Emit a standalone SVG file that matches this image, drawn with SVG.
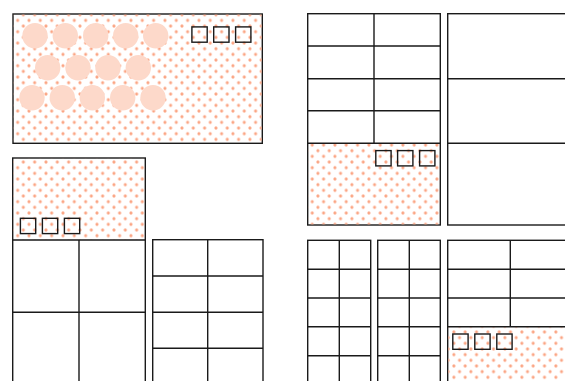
<svg xmlns="http://www.w3.org/2000/svg" width="565" height="381" viewBox="0 0 565 381">
<style>
.frame{fill:#fff;stroke:#1a1a1a;stroke-width:1.4}
.pat{fill:url(#dots);stroke:none}
.ln{stroke:#1a1a1a;stroke-width:1.4;fill:none}
.sq{fill:none;stroke:#1a1a1a;stroke-width:1.4}
.circ{fill:#fdd9ca}
</style>
<defs>
<pattern id="dots" patternUnits="userSpaceOnUse" x="-2.16" y="0.57" width="11.33" height="11.33">
<circle cx="2.83" cy="2.83" r="1.55" fill="#fba584"/>
<circle cx="8.5" cy="8.5" r="1.55" fill="#fba584"/>
</pattern>
</defs>
<rect width="565" height="381" fill="#fff"/>

<g id="panel1">
<rect class="frame" x="13" y="14" width="249.3" height="129.3"/>
<rect class="pat" x="13.6" y="14.6" width="248" height="128"/>
<g class="circ">
<circle cx="35" cy="35.7" r="12.7"/><circle cx="65.3" cy="35.7" r="12.7"/><circle cx="95.7" cy="35.7" r="12.7"/><circle cx="125.7" cy="35.7" r="12.7"/><circle cx="155.7" cy="35.7" r="12.7"/>
<circle cx="47.7" cy="67.7" r="12.7"/><circle cx="78" cy="67.7" r="12.7"/><circle cx="108" cy="67.7" r="12.7"/><circle cx="138.3" cy="67.7" r="12.7"/>
<circle cx="32" cy="97.7" r="12.7"/><circle cx="62.3" cy="97.7" r="12.7"/><circle cx="92.3" cy="97.7" r="12.7"/><circle cx="122.7" cy="97.7" r="12.7"/><circle cx="153" cy="97.7" r="12.7"/>
</g>
<rect class="sq" x="191.9" y="26.9" width="15.3" height="15.3"/>
<rect class="sq" x="213.7" y="26.9" width="15.3" height="15.3"/>
<rect class="sq" x="235.6" y="26.9" width="15.3" height="15.3"/>
</g>

<g id="panel2">
<rect class="frame" x="307.7" y="13.7" width="132.6" height="211.3"/>
<rect class="pat" x="308.3" y="143.9" width="131.4" height="80.5"/>
<path class="ln" d="M374 13.7V143.3M307.7 46H440.3M307.7 78.7H440.3M307.7 110.7H440.3M307.7 143.3H440.3"/>
<rect class="sq" x="375.8" y="150.6" width="15.3" height="15.3"/>
<rect class="sq" x="397.6" y="150.6" width="15.3" height="15.3"/>
<rect class="sq" x="419.6" y="150.6" width="15.3" height="15.3"/>
</g>

<g id="panel3">
<rect class="frame" x="447.7" y="13.7" width="130" height="211.3"/>
<path class="ln" d="M447.7 78.7H580M447.7 143.3H580"/>
</g>

<g id="panel4">
<rect class="frame" x="12.7" y="158" width="132.6" height="240"/>
<rect class="pat" x="13.3" y="158.6" width="131.4" height="81.4"/>
<path class="ln" d="M12.7 240H145.3M79 240V400M12.7 312.3H145.3"/>
<rect class="sq" x="20.4" y="218.3" width="15.3" height="15.3"/>
<rect class="sq" x="42.4" y="218.3" width="15.3" height="15.3"/>
<rect class="sq" x="64.4" y="218.3" width="15.3" height="15.3"/>
</g>

<g id="panel5">
<rect class="frame" x="152.7" y="239.7" width="110.3" height="160"/>
<path class="ln" d="M207.7 239.7V400M152.7 276H263M152.7 312.3H263M152.7 348.3H263"/>
</g>

<g id="panel6">
<rect class="frame" x="307.7" y="240.3" width="63" height="160"/>
<path class="ln" d="M339.3 240.3V400M307.7 269.3H370.7M307.7 298H370.7M307.7 326.7H370.7M307.7 355.7H370.7"/>
</g>

<g id="panel7">
<rect class="frame" x="377.7" y="240.3" width="62.6" height="160"/>
<path class="ln" d="M409.3 240.3V400M377.7 269.3H440.3M377.7 298H440.3M377.7 326.7H440.3M377.7 355.7H440.3"/>
</g>

<g id="panel8">
<rect class="frame" x="447.7" y="240.3" width="130" height="160"/>
<rect class="pat" x="448.3" y="327.3" width="130" height="60"/>
<path class="ln" d="M510.3 240.3V326.7M447.7 269.3H580M447.7 298H580M447.7 326.7H580"/>
<rect class="sq" x="452.8" y="334" width="15.3" height="15.3"/>
<rect class="sq" x="474.8" y="334" width="15.3" height="15.3"/>
<rect class="sq" x="496.8" y="334" width="15.3" height="15.3"/>
</g>
</svg>
